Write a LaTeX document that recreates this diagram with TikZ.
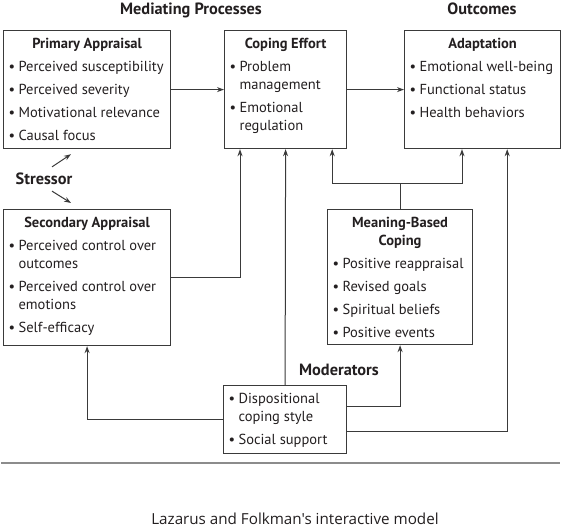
\documentclass[tikz,border=0pt]{standalone}
\usepackage{fontspec}
\setmainfont{PT Sans}
\newfontfamily\capfont{Open Sans}
\usetikzlibrary{arrows.meta}
\definecolor{ink}{HTML}{231F20}
\definecolor{edge}{HTML}{3A3A3A}
\definecolor{rulegray}{HTML}{8C8C8C}
\newcommand{\ttl}[1]{{\centering\bfseries\rule{0pt}{18pt}#1\par}}
\newcommand{\itm}[1]{\par\vspace{5pt}\hangindent=15pt\hangafter=1\noindent\makebox[15pt][l]{\hspace{5pt}\textbullet}#1\par}
\newcommand{\boxtxt}[3]{\parbox[t][#2][t]{#1}{\fontsize{14.5}{18}\selectfont\raggedright #3}}
\tikzset{
  box/.style={draw=edge, line width=1.2pt, anchor=north west, inner sep=0pt, text=ink},
  head/.style={font=\fontsize{16.3}{18}\selectfont\bfseries, text=ink, inner sep=0pt},
  arr/.style={draw=edge, line width=1pt, -{Stealth[length=7pt,width=5pt]}},
  lin/.style={draw=edge, line width=1pt}
}
\begin{document}
\begin{tikzpicture}[x=1pt,y=-1pt]
\useasboundingbox[fill=white] (0,0) rectangle (563,530);
\node[head] (medh) at (191,10) {Mediating Processes};
\node[head] (outh) at (482,9) {Outcomes};
\node[head] (stressor) at (44,179) {Stressor};
\node[head] (modh) at (339,370) {Moderators};

\node[box] (prim) at (3,30) {\boxtxt{167pt}{118pt}{\ttl{Primary Appraisal}\itm{Perceived susceptibility}\itm{Perceived severity}\itm{Motivational relevance}\itm{Causal focus}}};
\node[box] (cope) at (224,30) {\boxtxt{122pt}{118pt}{\ttl{Coping Effort}\itm{Problem\newline management}\itm{Emotional\newline regulation}}};
\node[box] (adapt) at (404,30) {\boxtxt{156pt}{118pt}{\ttl{Adaptation}\itm{Emotional well-being}\itm{Functional status}\itm{Health behaviors}}};
\node[box] (sec) at (3,209) {\boxtxt{167pt}{136pt}{\ttl{Secondary Appraisal}\itm{Perceived control over\newline outcomes}\itm{Perceived control over\newline emotions}\itm{Self-efficacy}}};
\node[box] (mean) at (327,209) {\boxtxt{145pt}{135pt}{\ttl{Meaning-Based\\Coping}\itm{Positive reappraisal}\itm{Revised goals}\itm{Spiritual beliefs}\itm{Positive events}}};
\node[box] (mod) at (223,385) {\boxtxt{123pt}{68pt}{\itm{\rule{0pt}{13pt}Dispositional\newline coping style}\itm{Social support}}};

\draw[arr] (prim.east) -- (cope.west);
\draw[arr] (cope.east) -- (adapt.west);
\draw[arr] ([xshift=8pt,yshift=6pt]stressor.north) -- ([xshift=68pt,yshift=-5pt]prim.south west);
\draw[arr] ([xshift=8pt,yshift=-6pt]stressor.south) -- ([xshift=68pt,yshift=6pt]sec.north west);
\draw[arr] (sec.east) -| ([xshift=16pt]cope.south west);
\draw[arr] (mod.north) -- (cope.south);
\coordinate (mj) at ([yshift=26pt]mean.north);
\draw[lin] (mean.north) -- (mj);
\draw[arr] (mj) -| ([xshift=-15pt]cope.south east);
\draw[arr] (mj) -| ([xshift=58pt]adapt.south west);
\draw[arr] (mod.west) -| (sec.south);
\draw[arr] ([yshift=13pt]mod.east) -| (mean.south);
\draw[arr] ([yshift=-12pt]mod.east) -| ([xshift=-54pt]adapt.south east);

\draw[rulegray, line width=2.5pt] (1,463) -- (560,463);
\node[font=\capfont\fontsize{15.2}{18}\selectfont, text=ink, inner sep=0pt] (cap) at (295,519) {Lazarus and Folkman's interactive model};
\end{tikzpicture}
\end{document}
